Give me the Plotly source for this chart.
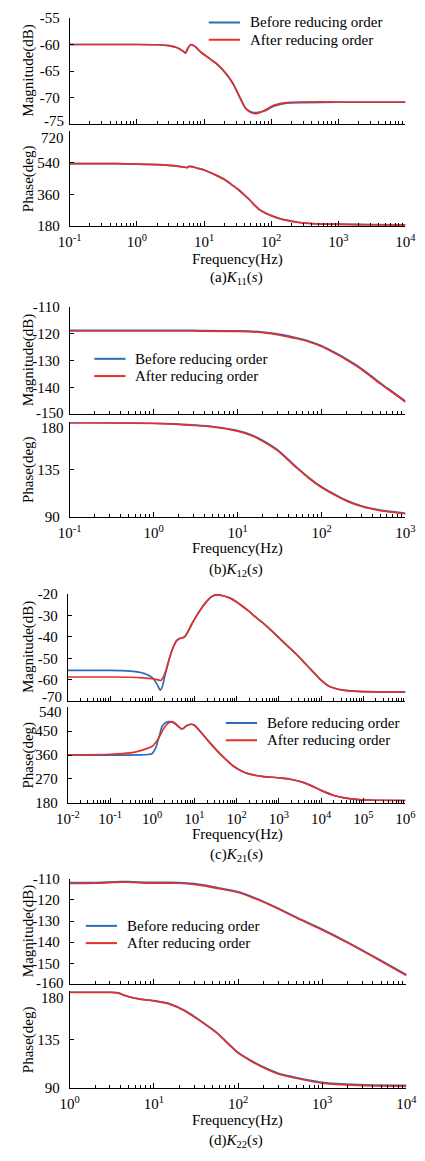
import plotly.graph_objects as go

W, H = 425, 1161
FONT = "Liberation Serif, Times New Roman, serif"
BLUE = "#2a6db5"
RED = "#e4302b"

# ---------------- data ----------------
# (a) K11(s)
a_mag_f = [0.1, 0.3, 1, 2, 3, 4, 4.8, 5.3, 5.7, 6.3, 7.2, 9.1, 12, 15.5, 21.5, 27, 33,
           41.7, 51, 60, 79, 109, 170, 300, 1000, 10000]
a_mag_before = [-60.0, -60.0, -60.0, -60.05, -60.2, -60.6, -61.2, -61.6, -60.8, -60.05, -60.3,
                -61.5, -62.6, -63.7, -65.6, -67.4, -69.6, -72.0, -72.7, -72.8, -72.5, -71.6,
                -71.0, -70.9, -70.85, -70.85]
a_mag_after = [-60.0, -60.0, -60.0, -60.05, -60.2, -60.6, -61.2, -61.6, -60.8, -60.05, -60.3,
               -61.5, -62.6, -63.6, -65.5, -67.3, -69.5, -72.0, -72.8, -73.0, -72.4, -71.4,
               -70.9, -70.8, -70.8, -70.8]
a_ph_f = [0.1, 0.5, 1, 2, 3, 4, 5, 5.6, 6.0, 6.6, 8, 10, 15, 20, 27, 33, 39, 50, 57, 70, 96,
          130, 170, 250, 400, 1000, 3000, 10000]
a_ph_before = [535, 535, 533, 530, 526, 521, 516, 513, 520, 518, 509, 499, 470, 446, 410, 385,
               360, 321, 298, 268, 242, 224, 213, 201, 194, 190, 188, 187]
a_ph_after = [535, 535, 533, 530, 526, 521, 516, 513, 520, 518, 509, 499, 470, 446, 410, 385,
              360, 321, 298, 268, 241, 223, 212, 200, 193, 189, 187, 186]

# (b) K12(s)
b_mag_f = [0.1, 0.3, 1, 3, 10, 20, 32, 50, 70, 100, 150, 200, 300, 500, 700, 1000]
b_mag_before = [-118.8, -118.8, -118.8, -118.8, -118.9, -119.4, -120.2, -121.5, -122.7, -124.5,
                -127.3, -129.5, -133.0, -138.3, -141.6, -145.1]
b_mag_after = [-119.0, -119.0, -119.0, -119.0, -119.1, -119.6, -120.5, -121.8, -123.0, -124.8,
               -127.6, -129.8, -133.3, -138.6, -141.9, -145.4]
b_ph_f = [0.1, 0.3, 1, 2, 3, 5, 10, 15, 20, 30, 50, 70, 100, 150, 200, 300, 500, 1000]
b_ph_before = [179.7, 179.5, 179.0, 178.2, 177.3, 175.9, 172.0, 167.6, 162.6, 153.6, 137.6,
               127.6, 118.6, 110.5, 105.5, 100.4, 96.4, 93.4]
b_ph_after = [179.5, 179.3, 178.8, 178.0, 177.0, 175.5, 171.5, 167.0, 162.0, 153.0, 137.0,
              127.0, 118.0, 110.0, 105.0, 100.0, 96.0, 93.0]

# (c) K21(s)
c_mag_f_before = [0.01, 0.05, 0.1, 0.2, 0.4, 0.7, 1.0, 1.3, 1.55, 1.75, 2.0, 2.3, 2.6, 3.2, 3.8,
                  4.5, 5.3, 6.0, 6.7, 7.5, 8.8, 10.5, 14.8, 21, 27, 35, 50, 70, 100, 140, 200,
                  300, 460, 700, 1000, 1600, 2570, 4000, 6000, 10000, 14000, 20000, 33000,
                  60000, 100000, 1000000]
c_mag_before = [-55.6, -55.6, -55.6, -55.7, -56.2, -57.3, -59.0, -62.0, -64.8, -63.0, -58.0,
                -53.5, -49.5, -44.5, -41.8, -40.8, -40.4, -39.8, -38.3, -36.5, -33.8, -31.2,
                -26.6, -22.8, -21.0, -20.5, -21.0, -22.0, -23.8, -25.9, -28.3, -31.3, -34.2,
                -37.5, -40.4, -44.2, -48.0, -52.0, -55.6, -60.2, -62.5, -63.8, -64.8, -65.3,
                -65.5, -65.6]
c_mag_f_after = [0.01, 0.1, 0.3, 0.6, 1.0, 1.3, 1.6, 1.9, 2.2, 2.6, 3.2, 3.8, 4.5, 5.3, 6.0,
                 6.7, 7.5, 8.8, 10.5, 14.8, 21, 27, 35, 50, 70, 100, 140, 200, 300, 460, 700,
                 1000, 1600, 2570, 4000, 6000, 10000, 14000, 20000, 33000, 60000, 100000,
                 1000000]
c_mag_after = [-58.7, -58.7, -58.8, -59.1, -59.5, -59.9, -60.3, -58.0, -54.5, -49.5, -44.5,
               -41.8, -40.8, -40.4, -39.8, -38.3, -36.5, -33.8, -31.2, -26.6, -22.8, -21.0,
               -20.5, -21.0, -22.0, -23.8, -25.9, -28.3, -31.3, -34.2, -37.5, -40.4, -44.2,
               -48.0, -52.0, -55.6, -60.2, -62.5, -63.8, -64.8, -65.3, -65.5, -65.6]
c_ph_f_before = [0.01, 0.1, 0.5, 0.8, 1.0, 1.2, 1.35, 1.55, 1.7, 2.0, 2.5, 3.2, 4.0, 5.1, 6.5,
                 8.1, 10, 14.8, 20, 35, 50, 83, 130, 195, 400, 1070, 2000, 3600, 6000, 10000,
                 20000, 33000, 79000, 200000, 1000000]
c_ph_before = [360, 360, 360.5, 362, 366, 385, 411, 445, 467, 480, 486, 482, 470, 458, 470, 476,
               472, 443, 418, 375, 350, 319, 300, 289, 280, 274, 268, 258, 244, 227, 208, 200,
               192, 190, 189]
c_ph_f_after = [0.01, 0.1, 0.3, 0.48, 0.8, 1.0, 1.35, 1.9, 2.4, 2.9, 3.5, 4.0, 5.1, 6.5, 8.1,
                10, 14.8, 20, 35, 50, 83, 130, 195, 400, 1070, 2000, 3600, 6000, 10000, 20000,
                33000, 79000, 200000, 1000000]
c_ph_after = [361, 363, 368, 375, 386, 393, 418, 462, 480, 486, 480, 470, 458, 470, 476, 472,
              443, 418, 375, 350, 319, 300, 289, 280, 274, 268, 258, 244, 227, 208, 200, 192,
              190, 189]

# (d) K22(s)
d_mag_f = [1, 2, 3, 4, 5, 7, 10, 15, 20, 30, 40, 60, 100, 200, 316, 500, 1000, 2000, 5000, 10000]
d_mag_before = [-111.8, -111.8, -111.5, -111.3, -111.3, -111.6, -111.7, -111.7, -111.8, -112.3,
                -113.0, -114.4, -116.2, -120.7, -124.4, -128.3, -133.9, -140.0, -148.7, -155.5]
d_mag_after = [-112.2, -112.1, -111.8, -111.6, -111.6, -111.9, -112.0, -112.0, -112.1, -112.6,
               -113.3, -114.7, -116.5, -121.0, -124.7, -128.6, -134.2, -140.3, -149.0, -155.8]
d_ph_f = [1, 2, 3, 3.7, 4.5, 5.5, 7, 10, 15.4, 23.6, 36, 56, 100, 150, 204, 300, 490, 1000,
          2700, 10000]
d_ph_before = [179.2, 179.2, 179.2, 178.7, 176.2, 174.2, 172.7, 171.2, 168.3, 161.8, 152.4,
               141.5, 123.0, 114.5, 109.2, 103.6, 99.7, 95.3, 93.1, 92.3]
d_ph_after = [179.0, 179.0, 179.0, 178.5, 176.0, 174.0, 172.5, 171.0, 168.0, 161.5, 152.0,
              141.0, 122.6, 114.0, 108.6, 103.0, 99.0, 94.5, 92.3, 91.5]

# tick values
a_mag_ticks = [-75, -70, -65, -60, -55]
a_ph_ticks = [180, 360, 540, 720]
b_mag_ticks = [-150, -140, -130, -120, -110]
b_ph_ticks = [90, 135, 180]
c_mag_ticks = [-70, -60, -50, -40, -30, -20]
c_ph_ticks = [180, 270, 360, 450, 540]
d_mag_ticks = [-160, -150, -140, -130, -120, -110]
d_ph_ticks = [90, 135, 180]

legend_names = ["Before reducing order", "After reducing order"]
y_titles = ["Magnitude(dB)", "Phase(deg)"]
x_title = "Frequency(Hz)"
captions = ["(a)<i>K</i><sub>11</sub>(<i>s</i>)", "(b)<i>K</i><sub>12</sub>(<i>s</i>)",
            "(c)<i>K</i><sub>21</sub>(<i>s</i>)", "(d)<i>K</i><sub>22</sub>(<i>s</i>)"]

# ---------------- layout geometry (pixels) ----------------
# bot_lab_y / top_lab_y: where the reference puts the magnitude axis' lowest label and
# the phase axis' highest label (nudged apart so they do not collide)
panels = [
    dict(xlog=(-1, 4), xpx=(61, 416), mag=(10, 118), ph=(125, 221),
         mr=(-75, -55), pr=(180, 720), mt=a_mag_ticks, pt=a_ph_ticks,
         bot_lab_y=115, top_lab_y=132,
         series=(a_mag_f, a_mag_before, a_mag_f, a_mag_after,
                 a_ph_f, a_ph_before, a_ph_f, a_ph_after),
         freq_y=255, cap_y=274, leg=(208, 241, 253, 14.7)),
    dict(xlog=(-1, 3), xpx=(61, 416), mag=(303, 412), ph=(420, 516),
         mr=(-150, -110), pr=(90, 180), mt=b_mag_ticks, pt=b_ph_ticks,
         bot_lab_y=411, top_lab_y=426,
         series=(b_mag_f, b_mag_before, b_mag_f, b_mag_after,
                 b_ph_f, b_ph_before, b_ph_f, b_ph_after),
         freq_y=548, cap_y=570, leg=(87, 120, 131, 355.7)),
    dict(xlog=(-2, 6), xpx=(59, 416), mag=(594, 703), ph=(709, 806),
         mr=(-70, -20), pr=(180, 540), mt=c_mag_ticks, pt=c_ph_ticks,
         bot_lab_y=699, top_lab_y=713.5,
         series=(c_mag_f_before, c_mag_before, c_mag_f_after, c_mag_after,
                 c_ph_f_before, c_ph_before, c_ph_f_after, c_ph_after),
         freq_y=838, cap_y=859, leg=(226, 259, 271, 725)),
    dict(xlog=(0, 4), xpx=(61, 417), mag=(883, 990), ph=(997, 1095),
         mr=(-160, -110), pr=(90, 180), mt=d_mag_ticks, pt=d_ph_ticks,
         bot_lab_y=988.5, top_lab_y=1003.5,
         series=(d_mag_f, d_mag_before, d_mag_f, d_mag_after,
                 d_ph_f, d_ph_before, d_ph_f, d_ph_after),
         freq_y=1128, cap_y=1149, leg=(78, 111, 123, 930.7)),
]


def px_x(p):
    return p / W


def px_y(p):
    return 1 - p / H


def sup_label(k):
    return "10<sup>%d</sup>" % k


fig = go.Figure()
layout = dict(width=W, height=H, margin=dict(l=0, r=0, t=0, b=0, pad=0),
              paper_bgcolor="white", plot_bgcolor="white", showlegend=False,
              font=dict(family=FONT, size=15, color="black"))
annotations = []
shapes = []
TXT = dict(family=FONT, size=15, color="black")


def side_label(text, xpx, ypx):
    return dict(text=text, xref="paper", yref="paper", x=px_x(xpx - 5), y=px_y(ypx),
                xanchor="right", yanchor="middle", showarrow=False, font=TXT, borderpad=0)


ax = 0
for p in panels:
    lo, hi = p["xlog"]
    major = [10.0 ** k for k in range(lo, hi + 1)]
    minor = [m * 10.0 ** k for k in range(lo, hi) for m in range(2, 10)]
    fb, vb_mag, fa, va_mag, fpb, vb_ph, fpa, va_ph = p["series"]
    for kind in ("mag", "ph"):
        ax += 1
        xn = "x" if ax == 1 else "x%d" % ax
        yn = "y" if ax == 1 else "y%d" % ax
        top, bot = p[kind]
        if kind == "mag":
            pairs = [(fb, vb_mag, BLUE), (fa, va_mag, RED)]
            rng, tv = p["mr"], p["mt"]
            tt = [""] + [str(v) for v in tv[1:]]
            annotations.append(side_label(str(tv[0]), p["xpx"][0], p["bot_lab_y"]))
        else:
            pairs = [(fpb, vb_ph, BLUE), (fpa, va_ph, RED)]
            rng, tv = p["pr"], p["pt"]
            tt = [str(v) for v in tv[:-1]] + [""]
            annotations.append(side_label(str(tv[-1]), p["xpx"][0], p["top_lab_y"]))
        for (xs, ys, col), name in zip(pairs, legend_names):
            fig.add_trace(go.Scatter(x=xs, y=ys, name=name, mode="lines", xaxis=xn, yaxis=yn,
                                     line=dict(color=col, width=1.7, shape="spline",
                                               smoothing=0.6),
                                     hoverinfo="x+y+name"))
        layout["xaxis" if ax == 1 else "xaxis%d" % ax] = dict(
            type="log", range=[lo, hi], domain=[px_x(p["xpx"][0]), px_x(p["xpx"][1])],
            anchor=yn, showline=True, linecolor="black", linewidth=1, mirror=False,
            showgrid=False, zeroline=False, ticks="inside", ticklen=5, tickwidth=1,
            tickcolor="black", tickmode="array", tickvals=major,
            ticktext=[sup_label(k) for k in range(lo, hi + 1)],
            showticklabels=(kind == "ph"), ticklabelstandoff=2,
            ticklabeloverflow="allow",
            tickfont=TXT,
            minor=dict(tickmode="array", tickvals=minor, ticks="inside", ticklen=3,
                       tickwidth=1, tickcolor="black", showgrid=False),
            fixedrange=True)
        layout["yaxis" if ax == 1 else "yaxis%d" % ax] = dict(
            range=list(rng), domain=[px_y(bot), px_y(top)], anchor=xn,
            showline=True, linecolor="black", linewidth=1, mirror=False,
            showgrid=False, zeroline=False, ticks="inside", ticklen=4, tickwidth=1,
            tickcolor="black", tickmode="array", tickvals=tv,
            ticktext=tt, ticklabelstandoff=6, ticklabeloverflow="allow",
            tickfont=TXT, fixedrange=True)
        annotations.append(dict(
            text=y_titles[0] if kind == "mag" else y_titles[1], textangle=-90,
            xref="paper", yref="paper", x=px_x(17.5), y=px_y((top + bot) / 2),
            xanchor="center", yanchor="middle", showarrow=False, font=TXT))
    annotations.append(dict(text=x_title, xref="paper", yref="paper", x=px_x(238),
                            y=px_y(p["freq_y"]), xanchor="center", yanchor="middle",
                            showarrow=False, font=TXT, borderpad=0))
    # legend (line sample + label), placed as in the reference
    lx0, lx1, tx, ry = p["leg"]
    for i, (name, col) in enumerate(zip(legend_names, (BLUE, RED))):
        yy = ry + i * 17.5
        shapes.append(dict(type="line", xref="paper", yref="paper",
                           x0=px_x(lx0), x1=px_x(lx1), y0=px_y(yy), y1=px_y(yy),
                           line=dict(color=col, width=2)))
        annotations.append(dict(text=name, xref="paper", yref="paper", x=px_x(tx - 2),
                                y=px_y(yy), xanchor="left", yanchor="middle",
                                showarrow=False, borderpad=0, font=TXT))

for cap, p in zip(captions, panels):
    annotations.append(dict(text=cap, xref="paper", yref="paper", x=px_x(237),
                            y=px_y(p["cap_y"]), xanchor="center", yanchor="middle",
                            showarrow=False, font=TXT, borderpad=0))

layout["annotations"] = annotations
layout["shapes"] = shapes
fig.update_layout(**layout)
fig.write_html("out.html")
